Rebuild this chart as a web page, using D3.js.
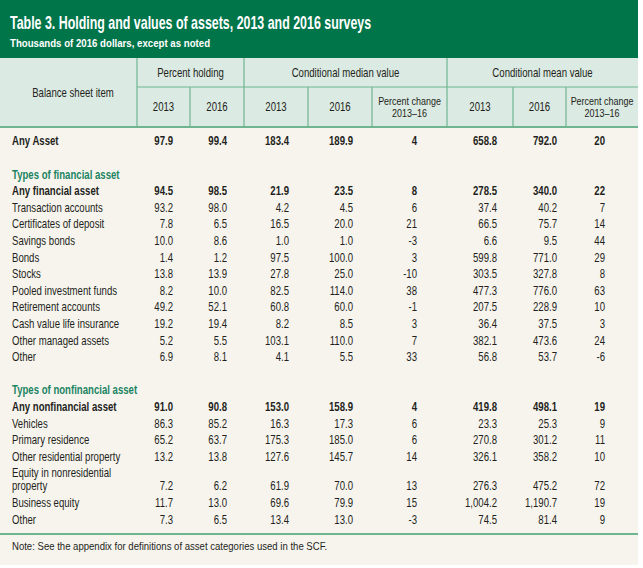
<!DOCTYPE html>
<html><head><meta charset="utf-8">
<script src="https://cdn.jsdelivr.net/npm/d3@7"></script>
<style>
html,body{margin:0;padding:0;background:#fff;}
svg text{font-family:"Liberation Sans Narrow","Liberation Sans",Arial,sans-serif;}
</style></head>
<body><svg id="chart" width="643" height="568"></svg>
<script>
// ---------- data ----------
const title = "Table 3. Holding and values of assets, 2013 and 2016 surveys";
const subtitle = "Thousands of 2016 dollars, except as noted";
const note = "Note: See the appendix for definitions of asset categories used in the SCF.";
const stubHeader = "Balance sheet item";
const groupHeaders = ["Percent holding", "Conditional median value", "Conditional mean value"];
const subHeaders = ["2013", "2016", "2013", "2016", "Percent change|2013–16", "2013", "2016", "Percent change|2013–16"];

// kind: b = bold total, s = section heading, n = normal, g = gap
const rowKinds = ["b","g","s","b","n","n","n","n","n","n","n","n","n","n","g","s","b","n","n","n","n","n","n"];
const rowLabels = ["Any Asset","","Types of financial asset","Any financial asset","Transaction accounts","Certificates of deposit","Savings bonds","Bonds","Stocks","Pooled investment funds","Retirement accounts","Cash value life insurance","Other managed assets","Other","","Types of nonfinancial asset","Any nonfinancial asset","Vehicles","Primary residence","Other residential property","Equity in nonresidential|property","Business equity","Other"];
const holding2013 = ["97.9",null,null,"94.5","93.2","7.8","10.0","1.4","13.8","8.2","49.2","19.2","5.2","6.9",null,null,"91.0","86.3","65.2","13.2","7.2","11.7","7.3"];
const holding2016 = ["99.4",null,null,"98.5","98.0","6.5","8.6","1.2","13.9","10.0","52.1","19.4","5.5","8.1",null,null,"90.8","85.2","63.7","13.8","6.2","13.0","6.5"];
const median2013 = ["183.4",null,null,"21.9","4.2","16.5","1.0","97.5","27.8","82.5","60.8","8.2","103.1","4.1",null,null,"153.0","16.3","175.3","127.6","61.9","69.6","13.4"];
const median2016 = ["189.9",null,null,"23.5","4.5","20.0","1.0","100.0","25.0","114.0","60.0","8.5","110.0","5.5",null,null,"158.9","17.3","185.0","145.7","70.0","79.9","13.0"];
const medianChange = ["4",null,null,"8","6","21","-3","3","-10","38","-1","3","7","33",null,null,"4","6","6","14","13","15","-3"];
const mean2013 = ["658.8",null,null,"278.5","37.4","66.5","6.6","599.8","303.5","477.3","207.5","36.4","382.1","56.8",null,null,"419.8","23.3","270.8","326.1","276.3","1,004.2","74.5"];
const mean2016 = ["792.0",null,null,"340.0","40.2","75.7","9.5","771.0","327.8","776.0","228.9","37.5","473.6","53.7",null,null,"498.1","25.3","301.2","358.2","475.2","1,190.7","81.4"];
const meanChange = ["20",null,null,"22","7","14","44","29","8","63","10","3","24","-6",null,null,"19","9","11","10","72","19","9"];

const valueColumns = [holding2013, holding2016, median2013, median2016, medianChange, mean2013, mean2016, meanChange];

// ---------- layout ----------
const W = 638;
const colEdges = [0, 137, 190, 244, 308, 372, 447, 513, 566, W];
const rightPad = [17, 17, 19, 19, 30, 16, 9, 33];
const groupSpans = [[1,3],[3,6],[6,9]];
const C = {green:"#00754a", head:"#dbeae2", body:"#f7f4ee", line:"#6fb592", text:"#231f20", section:"#1b8463"};
const SX = 0.8; // condensed face

const svg = d3.select("#chart");

function addText(parent, x, y, str, o={}){
  return parent.append("text")
    .attr("transform",`translate(${x},${y}) scale(${o.sx||SX},1)`)
    .attr("text-anchor",o.anchor||"start")
    .attr("font-size",o.size||12)
    .attr("font-weight",o.bold?"bold":"normal")
    .attr("fill",o.fill||C.text)
    .text(str);
}
// one text element with stacked lines
function addLines(parent, x, y, lines, step, o={}){
  const t = addText(parent, x, y, null, o);
  lines.forEach((p,j)=>t.append("tspan").attr("x",0).attr("dy",j===0?0:step).text(p));
  return t;
}

// backgrounds
svg.append("rect").attr("x",0).attr("y",0).attr("width",W).attr("height",58).attr("fill",C.green);
svg.append("rect").attr("x",0).attr("y",58).attr("width",W).attr("height",69).attr("fill",C.head);
svg.append("rect").attr("x",0).attr("y",127).attr("width",W).attr("height",438).attr("fill",C.body);

addText(svg,10,29,title,{fill:"#fff",bold:true,size:17.5,sx:0.71});
addText(svg,10,47,subtitle,{fill:"#fff",bold:true,size:11.5,sx:0.84});

// header lines
const hl = svg.append("g").attr("stroke",C.line).attr("stroke-width",1.2);
colEdges.slice(1,-1).forEach((e,i)=>{
  const idx=i+1;
  const isGroupEdge = groupSpans.some(s=>s[0]===idx);
  hl.append("line").attr("x1",e).attr("x2",e).attr("y1",isGroupEdge?58:87).attr("y2",127);
});
hl.append("line").attr("x1",colEdges[1]).attr("x2",W).attr("y1",87).attr("y2",87);
svg.append("line").attr("x1",0).attr("x2",W).attr("y1",127).attr("y2",127).attr("stroke",C.line).attr("stroke-width",2.2);

// header texts
addText(svg,73,97,stubHeader,{anchor:"middle"});
groupHeaders.forEach((g,i)=>{
  const [a,b]=groupSpans[i];
  addText(svg,(colEdges[a]+colEdges[b])/2,77,g,{anchor:"middle"});
});
subHeaders.forEach((s,i)=>{
  const cx=(colEdges[i+1]+colEdges[i+2])/2;
  const parts=s.split("|");
  if(parts.length===1) addText(svg,cx,111,s,{anchor:"middle"});
  else addLines(svg,cx,104.5,parts,12.5,{anchor:"middle",size:11.5,sx:0.78});
});

// rows
const rowStep = 16.6, lineStep = 13;
let yc = 141;
const rowY = rowLabels.map((l)=>{
  const lines = l.split("|").length;
  const top = yc;
  yc += rowStep + (lines-1)*lineStep;
  return top;
});
const body = svg.append("g");
rowLabels.forEach((l,i)=>{
  const k=rowKinds[i];
  if(k==="g") return;
  const parts=l.split("|");
  const base = rowY[i]+4.3;
  addLines(body,12,base,parts,lineStep,{fill:k==="s"?C.section:C.text,bold:(k==="b"||k==="s")});
  const vy = base+(parts.length-1)*lineStep;
  valueColumns.forEach((col,c)=>{
    if(col[i]==null) return;
    addText(body,colEdges[c+2]-rightPad[c],vy,col[i],{anchor:"end",bold:k==="b"});
  });
});

svg.append("line").attr("x1",0).attr("x2",W).attr("y1",534).attr("y2",534).attr("stroke",C.line).attr("stroke-width",2.2);
addText(svg,12,550,note,{size:11,sx:0.87});
</script></body></html>
